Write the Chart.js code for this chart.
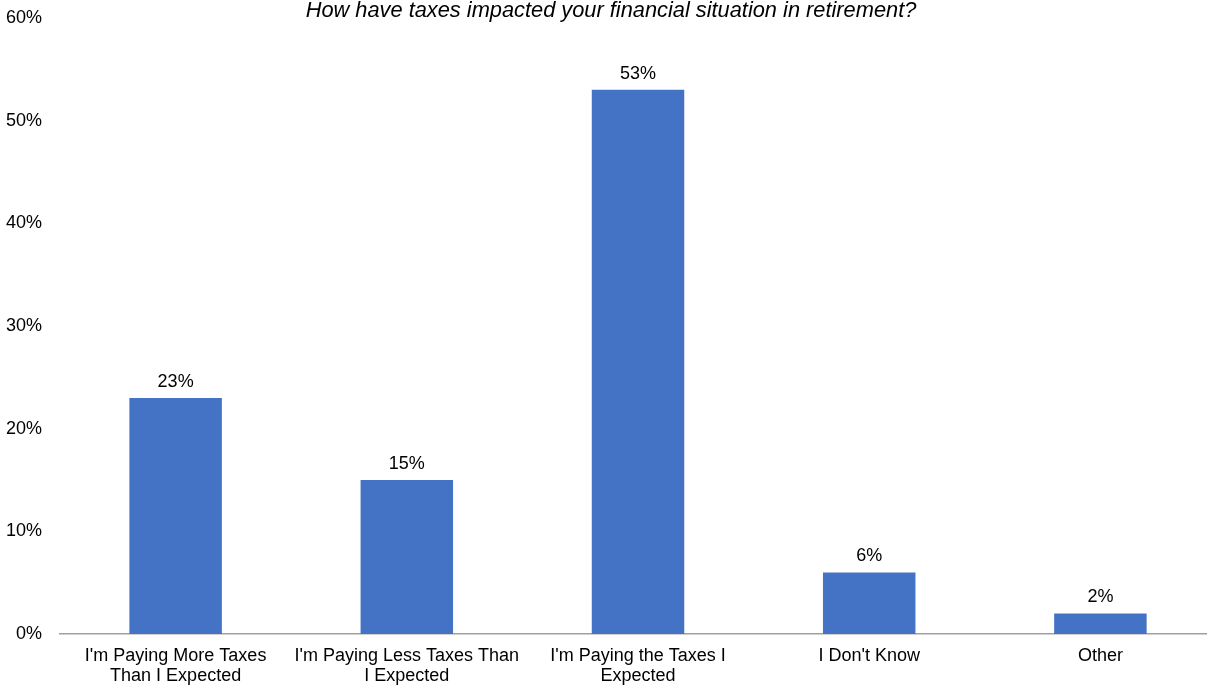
<!DOCTYPE html>
<html>
<head>
<meta charset="utf-8">
<script src="https://cdn.jsdelivr.net/npm/chart.js@4"></script>
<style>
  html, body { margin: 0; padding: 0; background: #fff; overflow: hidden; }
  #wrap { position: relative; width: 1216px; height: 685px; }
  #title {
    position: absolute; top: -1px; left: 0; width: 1222px; text-align: center;
    font: italic 21.8px "Liberation Sans", Arial, sans-serif; color: #000; line-height: 22px;
  }
</style>
</head>
<body>
<div id="wrap">
  <canvas id="chart"></canvas>
  <div id="title">How have taxes impacted your financial situation in retirement?</div>
</div>
<script>
var categories = [
  ["I'm Paying More Taxes", "Than I Expected"],
  ["I'm Paying Less Taxes Than", "I Expected"],
  ["I'm Paying the Taxes I", "Expected"],
  "I Don't Know",
  "Other"
];
var shares = [23, 15, 53, 6, 2];
var yTicks = [0, 10, 20, 30, 40, 50, 60];

var FONT = '"Liberation Sans", Arial, sans-serif';

// percentage text above each bar
var barLabels = {
  id: 'barLabels',
  afterDatasetsDraw: function (chart) {
    var ctx = chart.ctx;
    var meta = chart.getDatasetMeta(0);
    ctx.save();
    ctx.font = '18px ' + FONT;
    ctx.fillStyle = '#000';
    ctx.textAlign = 'center';
    ctx.textBaseline = 'bottom';
    meta.data.forEach(function (bar, i) {
      ctx.fillText(shares[i] + '%', bar.x, bar.y - 7);
    });
    ctx.restore();
  }
};

var canvas = document.getElementById('chart');
canvas.width = 1216;
canvas.height = 685;

new Chart(canvas, {
  type: 'bar',
  data: {
    labels: categories,
    datasets: [{
      data: shares,
      backgroundColor: '#4472C4',
      barPercentage: 0.4,
      categoryPercentage: 1.0
    }]
  },
  options: {
    responsive: false,
    animation: false,
    layout: { padding: { top: 18, left: -12, right: 0, bottom: -13 } },
    plugins: {
      legend: { display: false },
      tooltip: { enabled: false }
    },
    scales: {
      x: {
        grid: { display: false, drawTicks: false },
        border: { display: true, color: '#a0a0a0', width: 1.5 },
        ticks: {
          color: '#000',
          padding: 12,
          maxRotation: 0,
          autoSkip: false,
          font: { family: FONT, size: 18, lineHeight: 1.11 }
        }
      },
      y: {
        min: 0,
        max: 60,
        grid: { display: false, drawTicks: false },
        border: { display: false },
        afterBuildTicks: function (scale) {
          scale.ticks = yTicks.map(function (v) { return { value: v }; });
        },
        afterFit: function (scale) {
          // let the layout padding alone decide where the 60% line sits
          scale.paddingTop = 0;
        },
        ticks: {
          color: '#000',
          padding: 18,
          font: { family: FONT, size: 18 },
          callback: function (v) { return v + '%'; }
        }
      }
    }
  },
  plugins: [barLabels]
});
</script>
</body>
</html>
